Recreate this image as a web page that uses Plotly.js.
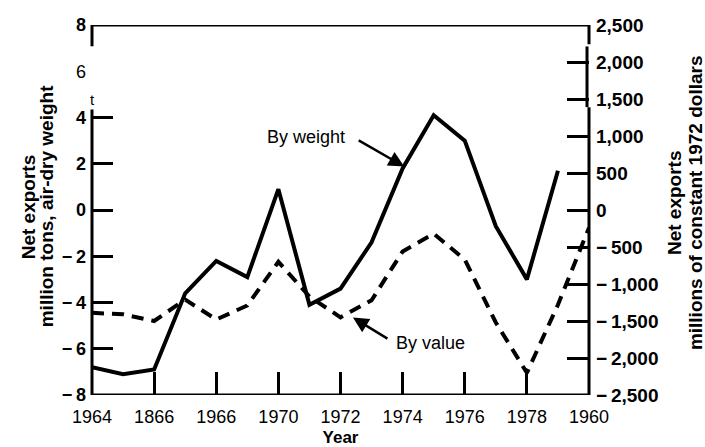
<!DOCTYPE html>
<html>
<head>
<meta charset="utf-8">
<script src="https://cdn.plot.ly/plotly-3.0.1.min.js"></script>
<style>html,body{margin:0;padding:0;background:#fff;}#chart{width:705px;height:447px;}</style>
</head>
<body>
<div id="chart"></div>
<script>
// Data
const weightYears = [1964,1965,1966,1967,1968,1969,1970,1971,1972,1973,1974,1975,1976,1977,1978,1979];
const weightValues = [-6.8,-7.1,-6.9,-3.6,-2.2,-2.9,0.9,-4.1,-3.4,-1.4,1.8,4.1,3.0,-0.7,-3.0,1.7]; // million tons
const valueYears = [1964,1965,1966,1967,1968,1969,1970,1971,1972,1973,1974,1975,1976,1977,1978,1979,1980];
const valueValues = [-1390,-1410,-1500,-1210,-1480,-1290,-700,-1170,-1450,-1220,-560,-320,-670,-1520,-2200,-1280,-240]; // million 1972 $

const xTickVals = [1964,1966,1968,1970,1972,1974,1976,1978,1980];
const xTickText = ['1964','1866','1966','1970','1972','1974','1976','1978','1960'];
const leftTickVals = [-8,-6,-4,-2,0,2,4];
const leftTickText = ['<b>\u2212\u20098</b>','<b>\u2212\u20096</b>','<b>\u2212\u20094</b>','<b>\u2212\u20092</b>','<b>0</b>','<b>2</b>','<b>4</b>'];
const leftUpperVals = [6,8];
const leftUpperText = ['6','<b>8</b>'];
const rightTickVals = [-2500,-2000,-1500,-1000,-500,0,500,1000,1500,2000,2500];
const rightTickText = ['\u2212\u20092,500','\u2212\u20092,000','\u2212\u20091,500','\u2212\u20091,000','\u2212\u2009500','0','500','1,000','1,500','2,000','2,500'];

const FONT = '"Liberation Sans", Arial, Helvetica, sans-serif';

const traces = [
  {x: weightYears, y: weightValues, type:'scatter', mode:'lines', name:'By weight',
   line:{color:'#000', width:4}, yaxis:'y'},
  {x: valueYears, y: valueValues, type:'scatter', mode:'lines', name:'By value',
   line:{color:'#000', width:4, dash:'12px,8px'}, yaxis:'y2'},
  {x: [], y: [], type:'scatter', mode:'lines', yaxis:'y3', hoverinfo:'skip', showlegend:false}
];

const axLine = {color:'#000', width:3};
const layout = {
  width:705, height:447,
  margin:{l:92, r:116, t:25, b:52, pad:0},
  paper_bgcolor:'#fff', plot_bgcolor:'#fff',
  showlegend:false,
  font:{family:FONT, color:'#000'},
  xaxis:{range:[1964,1980], tickvals:xTickVals, ticktext:xTickText,
    ticks:'inside', ticklen:23, tickwidth:3, tickcolor:'#000',
    showline:false, showgrid:false, zeroline:false, automargin:false,
    tickfont:{size:18, family:FONT, color:'#000'}, ticklabelstandoff:9,
    title:{text:'Year', font:{size:17, weight:'bold', family:FONT}, standoff:7}},
  yaxis:{range:[-8,8], tickvals:leftTickVals, ticktext:leftTickText,
    ticks:'inside', ticklen:21, tickwidth:3, tickcolor:'#000',
    showline:false, showgrid:false, zeroline:false, automargin:false,
    tickfont:{size:18, family:FONT, color:'#000'}, ticklabelstandoff:5},
  yaxis3:{range:[-8,8], overlaying:'y', anchor:'x', side:'left', tickvals:leftUpperVals, ticktext:leftUpperText,
    ticks:'', showline:false, showgrid:false, zeroline:false, automargin:false,
    tickfont:{size:18, family:FONT, color:'#000'}, ticklabelstandoff:5},
  yaxis2:{range:[-2500,2500], overlaying:'y', side:'right', tickvals:rightTickVals, ticktext:rightTickText,
    ticks:'inside', ticklen:22, tickwidth:3, tickcolor:'#000',
    showline:false, showgrid:false, zeroline:false, automargin:false,
    tickfont:{size:19, weight:'bold', family:FONT, color:'#000'}, ticklabelstandoff:6},
  shapes:[
    {type:'line', xref:'paper', yref:'y', x0:0, x1:1, y0:8, y1:8, line:axLine},
    {type:'line', xref:'paper', yref:'y', x0:0, x1:1, y0:-8, y1:-8, line:axLine},
    {type:'line', xref:'paper', yref:'y', x0:0, x1:0, y0:8, y1:7.08, line:axLine},
    {type:'line', xref:'paper', yref:'y', x0:0, x1:0, y0:4.35, y1:-8, line:axLine},
    {type:'line', xref:'paper', yref:'y2', x0:1, x1:1, y0:2500, y1:2240, line:axLine},
    {type:'line', xref:'paper', yref:'y2', x0:0.996, x1:0.996, y0:2210, y1:1390, line:axLine},
    {type:'line', xref:'paper', yref:'y2', x0:1, x1:1, y0:1390, y1:-2500, line:axLine}
  ],
  annotations:[
    // axis titles (rotated, two lines each)
    {xref:'paper', yref:'paper', x:-0.1288, y:0.51, text:'<b>Net exports</b>', textangle:-90, showarrow:false,
     font:{size:19, family:FONT}, xanchor:'center', yanchor:'middle'},
    {xref:'paper', yref:'paper', x:-0.0926, y:0.51, text:'<b>million tons, air-dry weight</b>', textangle:-90, showarrow:false,
     font:{size:19, family:FONT}, xanchor:'center', yanchor:'middle'},
    {xref:'paper', yref:'paper', x:1.1720, y:0.52, text:'<b>Net exports</b>', textangle:-90, showarrow:false,
     font:{size:19, family:FONT}, xanchor:'center', yanchor:'middle'},
    {xref:'paper', yref:'paper', x:1.2143, y:0.52, text:'<b>millions of constant 1972 dollars</b>', textangle:-90, showarrow:false,
     font:{size:19, family:FONT}, xanchor:'center', yanchor:'middle'},
    {xref:'paper', yref:'y', x:0, y:4.8, text:'t', showarrow:false, font:{size:15, family:FONT}, xanchor:'center'},
    {xref:'x', yref:'y', x:1970.9, y:3.14, text:'By weight', showarrow:false, font:{size:18, family:FONT}},
    {xref:'x', yref:'y', x:1974.05, y:1.88, text:'', showarrow:true, ax:-47, ay:-27,
     arrowhead:2, arrowsize:1.3, arrowwidth:2.4, arrowcolor:'#000'},
    {xref:'x', yref:'y', x:1974.91, y:-5.74, text:'By value', showarrow:false, font:{size:18, family:FONT}},
    {xref:'x', yref:'y', x:1972.4, y:-4.65, text:'', showarrow:true, ax:36, ay:22,
     arrowhead:2, arrowsize:1.3, arrowwidth:2.4, arrowcolor:'#000'}
  ]
};

Plotly.newPlot('chart', traces, layout, {staticPlot:true, displayModeBar:false});
</script>
</body>
</html>
